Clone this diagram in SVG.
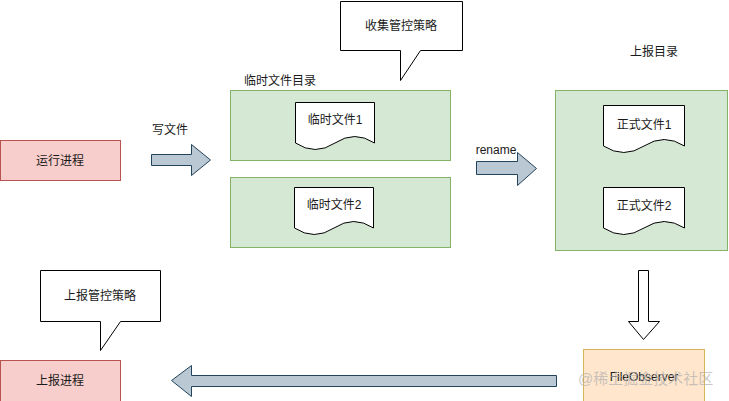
<svg xmlns="http://www.w3.org/2000/svg" width="729" height="401" viewBox="0 0 729 401">
<style>
text{font-family:"Liberation Sans","Noto Sans CJK SC",sans-serif;font-size:12px;fill:#1a1a1a;text-anchor:middle}
.red{fill:#f8cecc;stroke:#b85450;stroke-width:1}
.green{fill:#d5e8d4;stroke:#82b366;stroke-width:1}
.orange{fill:#ffe6cc;stroke:#d6b656;stroke-width:1}
.doc{fill:#ffffff;stroke:#000000;stroke-width:1}
.callout{fill:#ffffff;stroke:#000000;stroke-width:1}
.barrow{fill:#bac8d3;stroke:#23445d;stroke-width:1}
.warrow{fill:#ffffff;stroke:#000000;stroke-width:1}
.wm{font-size:15px;fill:#b0b0b0;fill-opacity:0.7;text-anchor:start}
</style>
<rect width="729" height="401" fill="#ffffff"/>

<g id="run-process">
<rect class="red" x="0.5" y="140.5" width="120" height="40"/>
<text x="60" y="164.5">运行进程</text>
</g>

<g id="collect-policy">
<path class="callout" d="M340.5,1.5 H462.5 V50.5 H420.5 L400.5,80.5 V50.5 H340.5 Z"/>
<text x="401" y="29.5">收集管控策略</text>
</g>

<g id="temp-dir">
<text x="280" y="85">临时文件目录</text>
<rect class="green" x="230.5" y="90.5" width="220" height="70"/>
<rect class="green" x="230.5" y="177.5" width="220" height="70"/>
</g>

<g id="temp-file-1">
<path class="doc" d="M295.5,102.5 H374.5 V143 Q354.75,130 335,143 Q315.25,156 295.5,143 Z"/>
<text x="335" y="124">临时文件1</text>
</g>

<g id="temp-file-2">
<path class="doc" d="M294.5,187.5 H373.5 V228 Q353.75,215 334,228 Q314.25,241 294.5,228 Z"/>
<text x="334" y="209">临时文件2</text>
</g>

<g id="report-dir">
<text x="654" y="56">上报目录</text>
<rect class="green" x="555.5" y="90.5" width="172" height="160"/>
</g>

<g id="formal-file-1">
<path class="doc" d="M603.5,105.5 H684.5 V146 Q664.25,133 644,146 Q623.75,159 603.5,146 Z"/>
<text x="644" y="129">正式文件1</text>
</g>

<g id="formal-file-2">
<path class="doc" d="M603.5,187.5 H684.5 V228 Q664.25,215 644,228 Q623.75,241 603.5,228 Z"/>
<text x="644" y="210">正式文件2</text>
</g>

<g id="report-policy">
<path class="callout" d="M40.5,270.5 H160.5 V321.5 H120.5 L100.5,350.5 V321.5 H40.5 Z"/>
<text x="100" y="300">上报管控策略</text>
</g>

<g id="report-process">
<rect class="red" x="0.5" y="360.5" width="120" height="45"/>
<text x="60" y="384.5">上报进程</text>
</g>

<g id="file-observer">
<rect class="orange" x="583.5" y="349.5" width="121" height="55"/>
<text x="644" y="381">FileObserver</text>
</g>

<g id="connectors">
<path class="barrow" d="M151.5,154.5 H191.5 V144.5 L210.5,160 L191.5,175.5 V165.5 H151.5 Z"/>
<text x="170" y="134">写文件</text>
<path class="barrow" d="M476.5,161.5 H517.5 V152.5 L536.5,168.5 L517.5,185.5 V174.5 H476.5 Z"/>
<text x="496" y="154">rename</text>
<path class="warrow" d="M638.5,270.5 H648.5 V321.5 H659.5 L643.5,339.5 L628.5,321.5 H638.5 Z"/>
<path class="barrow" d="M556.5,375.5 H191.5 V365.5 L171.5,380.5 L191.5,396.5 V386.5 H556.5 Z"/>
</g>

<text class="wm" x="578" y="384">@稀土掘金技术社区</text>
</svg>
